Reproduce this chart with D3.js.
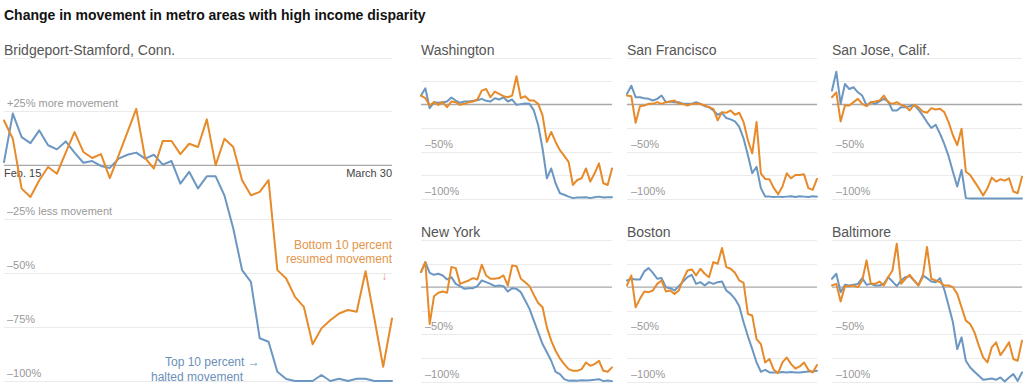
<!DOCTYPE html>
<meta charset="utf-8">
<style>
body { margin: 0; background: #fff; }
svg { display: block; font-family: "Liberation Sans", Arial, sans-serif; }
.title { font-size: 14px; font-weight: bold; fill: #121212; }
.metro { font-size: 14px; fill: #555; }
.tick-label { font-size: 11px; fill: #999; }
.date-label { font-size: 11px; fill: #444; }
.grid { stroke: #ebebeb; stroke-width: 1; }
.zero { stroke: #a8a8a8; stroke-width: 1.3; }
.line { fill: none; stroke-width: 2; stroke-linejoin: round; stroke-linecap: round; }
</style>
<svg width="1024" height="388"></svg>
<script src="https://d3js.org/d3.v7.min.js"></script>
<script>

// days from Feb. 15 to March 30, 2020
var dates = d3.timeDay.range(new Date(2020, 1, 15), new Date(2020, 2, 31));

var metros = ["Bridgeport-Stamford, Conn.", "Washington", "San Francisco", "San Jose, Calif.",
              "New York", "Boston", "Baltimore"];

// change in movement (%), top 10 percent income
var topBridgeport = [1.5, 24, 13.1, 10.3, 16.2, 9.3, 7.4, 11.1, 5.9, 1.2, 2, -0.3, -1.2, 3.1, 4.9, 5.9, 3.1, 4.9, 0.3, 2, -8.5, -3, -10.7, -5.1, -5.1, -14, -29.3, -48.6, -54, -80.2, -81.8, -95.7, -99.1, -100, -100, -100, -97.2, -100, -99, -100, -99, -99, -100, -100, -100];
var topWashington = [9.5, 17.3, -3.9, 2.5, 1.8, 2.5, 3.2, 7.4, 4.2, 1.8, 3.2, 3.2, 3.9, 4.6, 6, 3.9, 3.2, 6.7, 5.3, 7.7, 3.2, 5.3, -0.4, 0.4, 1, 0.7, -6.3, -22, -46.8, -78.5, -68, -83.8, -94.4, -96, -98, -99.6, -99, -99, -98.6, -99.6, -98.6, -98, -99, -98.6, -98.6];
var topSanFrancisco = [11.3, 20, 7.7, 7.7, 6.7, 6, 4.2, 6, 9.5, 2.5, 3.2, 2.5, 2.5, 0.7, 0.7, 0.7, 2.5, 0.7, -1.8, -2.8, -6.3, -10.9, -8.8, -14.4, -15.8, -18, -23.9, -36.3, -53.9, -73.2, -66.2, -89, -97.9, -98, -98.5, -98, -98.5, -98, -97.5, -98.5, -97.5, -98, -98.5, -97.5, -98];
var topSanJose = [14.8, 34.9, 0.7, 21.8, 16.5, 18.3, 13, 9.5, -1, 2.5, 0.7, 3.2, 6, 3.2, -6.3, -6.3, -2.8, -2.8, -1.8, -0.4, -5.3, -11.6, -18.7, -25, -21.5, -31, -42, -55, -71.5, -87.3, -69.7, -99.6, -100, -100, -100, -100, -100, -100, -100, -100, -100, -100, -100, -100, -100];
var topNewYork = [16, 26.6, 15.2, 13.1, 14.2, 12.4, 8.2, 10.6, 3.5, 1.1, -1.8, -1.1, -1.1, 1.1, 7.1, 5.3, 3.5, 1.1, 1.8, 1.1, -4.6, -1.1, -1.8, -5.3, -14.2, -23, -35.5, -47.9, -60.3, -69, -78, -89.7, -92.2, -97.5, -99.3, -99, -99.3, -98.6, -99, -98.6, -98.2, -97.5, -99.6, -99, -99.6];
var topBoston = [7.1, 8.9, 8.2, 8.2, 16.7, 20.2, 15.2, 8.9, 9.6, 0, -1.1, -3.5, 1.1, 6, 10.6, 13.1, 3.5, 5.3, 1.8, 5.3, 3.5, 5.3, 6, -3.5, -7.1, -12.4, -20.2, -37.2, -52.1, -65.6, -79.8, -89.7, -87.6, -90.4, -90.4, -90.4, -90, -90.4, -90, -90.4, -90.4, -90, -89.5, -89.5, -88.7];
var topBaltimore = [8.9, 14.2, -5.3, 2.5, 1.8, 2.5, 3.5, 9.6, 2.5, 3.5, 1.8, 1.8, 3.5, 10.6, 6, 1.1, 7.1, 10.6, 11.7, 7.1, 1.8, 12.4, 9.6, 6, 5.3, 9.6, -2.5, -19.5, -37.2, -65.6, -53.2, -78, -85.1, -89.7, -94, -98.2, -97.5, -96.8, -98.2, -95.7, -100, -95.7, -92.2, -99.3, -90.4];

// change in movement (%), bottom 10 percent income
var bottomBridgeport = [20.8, 12.3, -10.8, -14.7, -6.9, -0.8, -3.9, 5.9, 15.4, 6.2, 3.4, 5.2, -5.9, 4.6, 15.4, 26.2, 3.4, -1.5, 11.3, 11.3, 5.2, 10, 8.5, 21.3, 0, 12.3, 8.5, -6.9, -13.9, -12.3, -6.9, -48.6, -52.5, -61, -65.6, -83, -75.6, -71.8, -68.7, -67.1, -67.9, -49.1, -71, -93.4, -71];
var bottomWashington = [9.5, 6.7, -1, 2.5, -0.4, 2.5, -2.8, 3.2, 2.5, -0.4, 0.7, 2.5, 3.2, 5.3, 14.8, 16.5, 7.7, 13.7, 11.3, 8.8, 7.7, 9.5, 30, 6.7, 8.8, 4.2, 4.2, 0.7, -11.6, -39.8, -29.2, -39.8, -48.6, -54.6, -61, -85.6, -80.3, -78.5, -68, -82, -73.2, -62.7, -83.8, -85.6, -68];
var bottomSanFrancisco = [9.5, 8.8, -19.4, -1.8, -1, 0.7, 0.7, 2.5, 0.7, 2.5, 3.2, 4.2, 0.7, 0.7, -1, 0.7, 0.7, 0.7, -1, -2.8, -4.6, -16.9, -8.1, -8.8, -6.3, -10.9, -8.8, -18.7, -38, -52, -18.7, -73.2, -79.2, -79.6, -89, -95.4, -87.3, -73.2, -78.5, -75, -75, -74.3, -89, -90.8, -79.2];
var bottomSanJose = [7.7, 13, -18, -1, -1, 2.5, 6, 0.7, -1.8, 2.5, 3.2, 4.2, 9.5, 2.5, 0.7, 2.5, -0.4, -1.8, -6.3, -0.4, -2.8, -7.4, -8.8, -3.9, -5.3, -4.6, -8.1, -18.7, -32.7, -43.3, -25.7, -71.5, -75, -82, -89, -96.8, -89, -77.8, -82, -79.6, -81, -78.5, -92.6, -94.4, -76.8];
var bottomNewYork = [16, 26.6, -39, -9.6, -6, -4.6, -6, 21.3, 20.2, 3.5, 5.3, 7.1, 9.6, 8.2, 23.8, 12.4, 8.9, 8.9, 9.6, 12.4, 1.8, 23, 22.3, 8.9, 5.3, 1.1, -8.2, -16.7, -21.3, -42.6, -56.7, -67.4, -75.5, -81.6, -86.9, -88.7, -88.7, -86.9, -79.8, -83.3, -81.6, -78, -88.7, -89.7, -85];
var bottomBoston = [1.8, 12.4, -21.3, -12.4, -4.6, -5.3, -3.5, 3.5, 7.1, -4.6, -3.5, -7.1, -3.5, 8.2, 17.7, 18.8, 12.4, 19.5, 14.2, 10.6, 26.6, 24.8, 41.5, 21.3, 19.5, 15.2, 7.1, 4.6, -28.4, -30.1, -55, -60.3, -79.8, -76.2, -87.6, -91.1, -79.8, -74.5, -81.6, -86.2, -84, -79.8, -87.6, -90.4, -82.6];
var bottomBaltimore = [1.8, 3.5, -15.2, 1.1, 1.1, 1.8, 0, 7.1, 28.4, 3.5, 3.5, 6, 1.8, 10.6, 17.7, 46.1, 3.5, 8.9, 13.1, 7.1, 1.8, 10.6, 42.6, 8.9, 7.1, 5.3, 1.8, 1.8, 0, -7.1, -21.3, -35.5, -39, -47.9, -62, -74.5, -79.8, -63.8, -58.5, -72, -65.6, -58.5, -76.2, -78, -56.7];

var topSeries = [topBridgeport, topWashington, topSanFrancisco, topSanJose, topNewYork, topBoston, topBaltimore];
var bottomSeries = [bottomBridgeport, bottomWashington, bottomSanFrancisco, bottomSanJose, bottomNewYork, bottomBoston, bottomBaltimore];

var gridValues = [50, 25, -25, -50, -75, -100];
var bigTickLabels = {"25": "+25% more movement", "-25": "–25% less movement", "-50": "–50%", "-75": "–75%", "-100": "–100%"};
var smallTickLabels = {"-50": "–50%", "-100": "–100%"};

var orange = "#e68a2a",
    blue = "#6b97c2";

var svg = d3.select("svg");

svg.append("text")
    .attr("class", "title")
    .attr("x", 4)
    .attr("y", 20)
    .text("Change in movement in metro areas with high income disparity");

// panel boxes: [left, right, top(+50%), bottom(-100%)]
var boxes = [
    [4, 392, 57.5, 381],
    [421, 612, 57.5, 198.5],
    [627, 817, 57.5, 198.5],
    [832, 1022, 57.5, 198.5],
    [421, 612, 240, 381.5],
    [627, 817, 240, 381.5],
    [832, 1022, 240, 381.5]
];

boxes.forEach(function(b, k) {
    var big = k === 0;
    var x = d3.scaleTime().domain(d3.extent(dates)).range([b[0], b[1]]);
    var y = d3.scaleLinear().domain([-100, 50]).range([b[3], b[2]]);
    var g = svg.append("g");

    g.append("text")
        .attr("class", "metro")
        .attr("x", b[0])
        .attr("y", b[2] - 3)
        .text(metros[k]);

    g.selectAll(".grid")
        .data(gridValues)
        .enter().append("line")
        .attr("class", "grid")
        .attr("x1", b[0]).attr("x2", b[1])
        .attr("y1", function(d) { return Math.round(y(d)) + 0.5; })
        .attr("y2", function(d) { return Math.round(y(d)) + 0.5; });

    var labels = big ? bigTickLabels : smallTickLabels;
    g.selectAll(".tick-label")
        .data(Object.keys(labels))
        .enter().append("text")
        .attr("class", "tick-label")
        .attr("x", b[0] + (big ? 3 : 4))
        .attr("y", function(d) { return y(+d) - 4; })
        .text(function(d) { return labels[d]; });

    g.append("line")
        .attr("class", "zero")
        .attr("x1", b[0]).attr("x2", b[1])
        .attr("y1", y(0)).attr("y2", y(0));

    if (big) {
        g.append("text")
            .attr("class", "date-label")
            .attr("x", x(dates[0]))
            .attr("y", y(0) + 12)
            .text("Feb. 15");
        g.append("text")
            .attr("class", "date-label")
            .attr("x", x(dates[dates.length - 1]))
            .attr("y", y(0) + 12)
            .attr("text-anchor", "end")
            .text("March 30");
    }

    var line = d3.line()
        .x(function(d, i) { return x(dates[i]); })
        .y(function(d) { return y(d); });

    g.append("path")
        .attr("class", "line")
        .attr("stroke", blue)
        .attr("stroke-width", big ? 2.2 : 2)
        .attr("d", line(topSeries[k]));

    g.append("path")
        .attr("class", "line")
        .attr("stroke", orange)
        .attr("stroke-width", big ? 2.2 : 2)
        .attr("d", line(bottomSeries[k]));

    if (big) {
        var ann = g.append("g").style("font-size", "12px");
        ann.append("text")
            .attr("x", x(dates[44])).attr("y", y(-39))
            .attr("text-anchor", "end").attr("fill", "#e3954a")
            .text("Bottom 10 percent");
        ann.append("text")
            .attr("x", x(dates[44])).attr("y", y(-45.5))
            .attr("text-anchor", "end").attr("fill", "#e3954a")
            .text("resumed movement");
        ann.append("text")
            .attr("x", x(dates[43]) + 1).attr("y", y(-53))
            .attr("text-anchor", "middle").attr("fill", "#ef9c84")
            .style("font-size", "12px")
            .text("↓");
        ann.append("text")
            .attr("x", x(dates[29])).attr("y", y(-93))
            .attr("text-anchor", "end").attr("fill", "#6b8fb8")
            .text("Top 10 percent →");
        ann.append("text")
            .attr("x", x(dates[27]) + 1).attr("y", y(-100))
            .attr("text-anchor", "end").attr("fill", "#6b8fb8")
            .text("halted movement");
    }
});

</script>
